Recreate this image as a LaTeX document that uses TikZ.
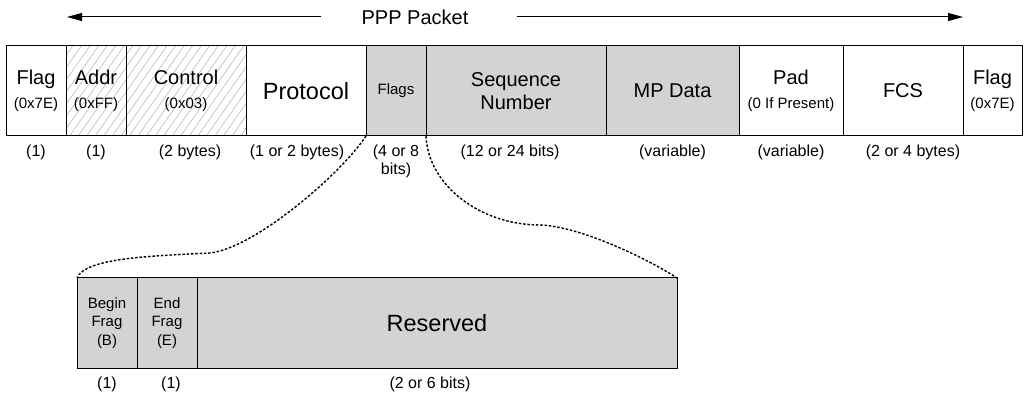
\documentclass[tikz,border=0pt]{standalone}
\usepackage{fontspec}
\setmainfont{Liberation Sans}
\usepackage{tikz}
\usetikzlibrary{arrows.meta,positioning,patterns.meta}
\definecolor{fieldgray}{HTML}{D3D3D3}
\definecolor{hatchgray}{HTML}{ADADAD}
\newcommand{\subtxt}[1]{{\fontsize{15}{18}\selectfont #1}}

\begin{document}
\begin{tikzpicture}[x=1pt,y=1pt,
  field/.style={draw,line width=1pt,inner sep=0pt,outer sep=0pt,minimum height=90pt,align=center,font=\fontsize{20}{23.5}\selectfont},
  shaded/.style={field,fill=fieldgray},
  hatched/.style={field,pattern={Lines[angle=55,distance=7pt,line width=0.5pt]},pattern color=hatchgray},
  fieldsmall/.style={font=\fontsize{15}{18.3}\selectfont},
  fieldbig/.style={font=\fontsize{23.5}{26}\selectfont},
  lbl/.style={inner sep=0pt,align=center,font=\fontsize{16}{18}\selectfont},
  pktarrow/.style={line width=1pt,-{Triangle[length=15pt,width=8pt]}},
  zoomline/.style={line width=1.4pt,dash pattern=on 2.5pt off 1.8pt}]
  \useasboundingbox (0,0) rectangle (1026,394);

  % packet arrow
  \node[font=\fontsize{20}{24}\selectfont,inner sep=0pt] (ppp) at (415,377) {PPP Packet};
  \coordinate (pktl) at (67,377);
  \coordinate (pktr) at (963,377);
  \draw[pktarrow] ([xshift=-40pt]ppp.west) -- (pktl);
  \draw[pktarrow] ([xshift=48pt]ppp.east) -- (pktr);

  % PPP frame
  \node[field,minimum width=60pt,anchor=north west] (flagA) at (6,348) {Flag\\\subtxt{(0x7E)}};
  \node[hatched,minimum width=60pt,right=0pt of flagA] (addr) {Addr\\\subtxt{(0xFF)}};
  \node[hatched,minimum width=120pt,right=0pt of addr] (ctrl) {Control\\\subtxt{(0x03)}};
  \node[field,fieldbig,minimum width=120pt,right=0pt of ctrl] (proto) {Protocol};
  \node[shaded,fieldsmall,minimum width=60pt,right=0pt of proto] (flags) {Flags};
  \node[shaded,minimum width=180pt,right=0pt of flags] (seq) {Sequence\\Number};
  \node[shaded,minimum width=133pt,right=0pt of seq] (mpdata) {MP Data};
  \node[field,minimum width=104pt,right=0pt of mpdata] (pad) {Pad\\\subtxt{(0 If Present)}};
  \node[field,minimum width=120pt,right=0pt of pad] (fcs) {FCS};
  \node[field,minimum width=59pt,right=0pt of fcs] (flagB) {Flag\\\subtxt{(0x7E)}};

  % flags detail
  \node[shaded,fieldsmall,minimum width=60pt,anchor=north west] (bfrag) at (77,116) {Begin\\Frag\\(B)};
  \node[shaded,fieldsmall,minimum width=60pt,right=0pt of bfrag] (efrag) {End\\Frag\\(E)};
  \node[shaded,fieldbig,minimum width=480pt,right=0pt of efrag] (resv) {Reserved};

  % sizes
  \foreach \f/\t/\dx in {flagA/(1)/0, addr/(1)/0, ctrl/(2 bytes)/4, proto/(1 or 2 bytes)/-9,
      seq/(12 or 24 bits)/-6, mpdata/(variable)/0, pad/(variable)/0, fcs/(2 or 4 bytes)/10,
      bfrag/(1)/0, efrag/(1)/4, resv/(2 or 6 bits)/-7}
    \node[lbl,below=9pt of \f,xshift=\dx pt] (lbl\f) {\t};
  \node[lbl,below=9pt of flags] (lblflags) {(4 or 8\\bits)};

  % zoom lines
  \coordinate (lmid) at (210,141);
  \coordinate (rmid) at (540,169);
  \draw[zoomline] (flags.south west) .. controls +(-25,-38) and +(45,5) .. (lmid)
    .. controls +(-60,-3) and +(8,20) .. (bfrag.north west);
  \draw[zoomline] (flags.south east) .. controls +(2,-49) and +(-60,0) .. (rmid)
    .. controls +(40,-1) and +(-27,18) .. (resv.north east);
\end{tikzpicture}
\end{document}
